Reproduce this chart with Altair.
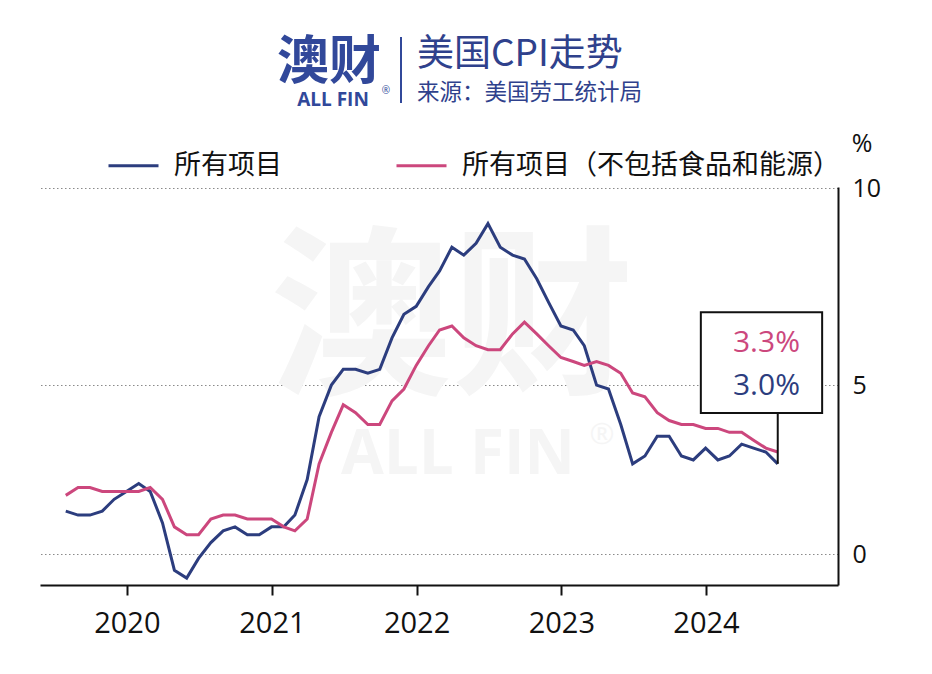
import altair as alt
import pandas as pd

# ---------------- data ----------------
series_names = ["所有项目", "所有项目（不包括食品和能源）"]
first_month = "2019-07-01"
cpi_all = [1.8, 1.7, 1.7, 1.8, 2.1, 2.3,
           2.5, 2.3, 1.5, 0.3, 0.1, 0.6, 1.0, 1.3, 1.4, 1.2, 1.2, 1.4,
           1.4, 1.7, 2.6, 4.2, 5.0, 5.4, 5.4, 5.3, 5.4, 6.2, 6.8, 7.0,
           7.5, 7.9, 8.5, 8.3, 8.6, 9.1, 8.5, 8.3, 8.2, 7.7, 7.1, 6.5,
           6.4, 6.0, 5.0, 4.9, 4.0, 3.0, 3.2, 3.7, 3.7, 3.2, 3.1, 3.4,
           3.1, 3.2, 3.5, 3.4, 3.3, 3.0]
cpi_core = [2.2, 2.4, 2.4, 2.3, 2.3, 2.3,
            2.3, 2.4, 2.1, 1.4, 1.2, 1.2, 1.6, 1.7, 1.7, 1.6, 1.6, 1.6,
            1.4, 1.3, 1.6, 3.0, 3.8, 4.5, 4.3, 4.0, 4.0, 4.6, 4.9, 5.5,
            6.0, 6.4, 6.5, 6.2, 6.0, 5.9, 5.9, 6.3, 6.6, 6.3, 6.0, 5.7,
            5.6, 5.5, 5.6, 5.5, 5.3, 4.8, 4.7, 4.3, 4.1, 4.0, 4.0, 3.9,
            3.9, 3.8, 3.8, 3.6, 3.4, 3.3]
x_tick_years = [2020, 2021, 2022, 2023, 2024]
y_tick_values = [0.7, 5, 10]
y_tick_labels = ["0", "5", "10"]

title_text = "美国CPI走势"
subtitle_text = "来源：美国劳工统计局"
logo_text = "澳财"
logo_sub = "ALL FIN"
unit_text = "%"

# axis extent and annotation box (data units)
x_start, x_end = "2019-05-27", "2024-11-29"
box_x0, box_x1 = "2023-12-19", "2024-10-20"
box_y0, box_y1 = 4.29, 6.85
label_x = "2024-08-25"
label_y_core, label_y_all = 6.07, 4.97

# ---------------- frames ----------------
dates = pd.date_range(first_month, periods=len(cpi_all), freq="MS") + pd.offsets.MonthEnd(0)
date_str = [d.strftime("%Y-%m-%d") for d in dates]
df = pd.concat([
    pd.DataFrame({"date": date_str, "value": cpi_all, "series": series_names[0], "order": 0}),
    pd.DataFrame({"date": date_str, "value": cpi_core, "series": series_names[1], "order": 1}),
])

NAVY = "#2c3d7e"
PINK = "#cc477d"
LOGO = "#31489a"
CJK = "Noto Sans CJK SC"
LAT = "Open Sans"

def dt(s):
    y, m, d = (int(p) for p in s.split("-"))
    return alt.DateTime(year=y, month=m, date=d, utc=True)

x_scale = alt.Scale(type="utc", domain=[dt(x_start), dt(x_end)])
y_scale = alt.Scale(domain=[-0.076, 10.03], nice=False, zero=False)

label_expr = "".join(f"datum.value == {v} ? '{l}' : " for v, l in zip(y_tick_values, y_tick_labels)) + "''"

x_enc = alt.X("date:T", scale=x_scale, title=None,
              axis=alt.Axis(values=[dt(f"{y}-01-01") for y in x_tick_years], format="%Y",
                            grid=False, domainColor="#111", domainWidth=2,
                            tickColor="#111", tickWidth=2, tickSize=10,
                            labelFontSize=29, labelFont=LAT, labelColor="#111",
                            labelPadding=14, labelFlush=False))
y_enc = alt.Y("value:Q", scale=y_scale, title=None,
              axis=alt.Axis(orient="right", values=y_tick_values, labelExpr=label_expr,
                            grid=True, gridDash=[1.5, 2.5], gridColor="#8a8a8a", gridWidth=1.2,
                            ticks=False, domain=True, domainColor="#111", domainWidth=2,
                            labelFontSize=25, labelFont=LAT, labelColor="#111",
                            labelPadding=14, labelBaseline="middle"))

one = lambda t: pd.DataFrame({"t": [t]})

def txt(t, x, y, size, color, font=CJK, weight="normal", align="left", baseline="middle"):
    return alt.Chart(one(t)).mark_text(fontSize=size, font=font, fontWeight=weight, color=color,
                                       align=align, baseline=baseline).encode(
        text="t:N", x=alt.value(x), y=alt.value(y))

# watermark
wm1 = txt(logo_text, 412, 138, 182, "#f5f5f5", weight="bold", align="center")
wm2 = txt(logo_sub, 418, 268, 62, "#f5f5f5", font=LAT, weight="bold", align="center")
wm3 = txt("®", 562, 248, 30, "#f5f5f5", font=LAT, align="center")

lines = alt.Chart(df).mark_line(strokeWidth=3).encode(
    x=x_enc, y=y_enc,
    color=alt.Color("series:N",
                    scale=alt.Scale(domain=series_names, range=[NAVY, PINK]),
                    legend=alt.Legend(orient="none", legendX=67, legendY=-48, direction="horizontal",
                                      title=None, symbolType="stroke", symbolSize=2500,
                                      symbolStrokeWidth=3, labelFontSize=27, labelFont=CJK,
                                      labelColor="#111", labelLimit=0, columnPadding=108,
                                      labelOffset=14)),
    detail="series:N",
    order="order:Q",
)

last = pd.DataFrame({"date": [date_str[-1]], "value": [cpi_all[-1]], "top": [box_y0]})
connector = alt.Chart(last).mark_rule(color="#111", strokeWidth=2).encode(
    x=alt.X("date:T", scale=x_scale), y=alt.Y("value:Q", scale=y_scale), y2="top:Q")

box = alt.Chart(pd.DataFrame({"x0": [box_x0], "x1": [box_x1], "y0": [box_y0], "y1": [box_y1]})).mark_rect(
    fill="white", stroke="#111", strokeWidth=2).encode(
    x=alt.X("x0:T", scale=x_scale), x2="x1:T",
    y=alt.Y("y0:Q", scale=y_scale), y2="y1:Q")

ann = pd.DataFrame({"x": [label_x, label_x],
                    "y": [label_y_core, label_y_all],
                    "t": [f"{cpi_core[-1]:.1f}%", f"{cpi_all[-1]:.1f}%"],
                    "series": [series_names[1], series_names[0]]})
ann_text = alt.Chart(ann).mark_text(fontSize=30, font=LAT, align="right", baseline="middle").encode(
    x=alt.X("x:T", scale=x_scale), y=alt.Y("y:Q", scale=y_scale), text="t:N",
    color=alt.Color("series:N", scale=alt.Scale(domain=series_names, range=[NAVY, PINK]), legend=None))

# header
logo = txt(logo_text, 289, -124, 52, LOGO, weight="bold", align="center")
logo2 = txt(logo_sub, 293, -87, 19, LOGO, font=LAT, weight="bold", align="center")
logo3 = txt("®", 346, -96, 10, LOGO, font=LAT, align="center")
sep = alt.Chart(one("")).mark_rule(color=LOGO, strokeWidth=2).encode(
    x=alt.value(361), y=alt.value(-150), y2=alt.value(-84))
title = txt(title_text, 377, -132, 37, "#2f418c")
subtitle = txt(subtitle_text, 377, -94, 22.5, "#2f418c")
unit = txt(unit_text, 822, -43, 25, "#111", font=LAT, align="center")

chart = alt.layer(
    wm1, wm2, wm3, lines, connector, box, ann_text,
    logo, logo2, logo3, sep, title, subtitle, unit
).resolve_scale(color="independent").properties(
    width=798, height=398,
    padding={"left": 32, "top": 179, "right": 80, "bottom": 70},
    autosize=alt.AutoSizeParams(type="none"),
    background="white",
).configure_view(stroke=None)

chart.save("out.html", embed_options={"renderer": "svg", "actions": False})
